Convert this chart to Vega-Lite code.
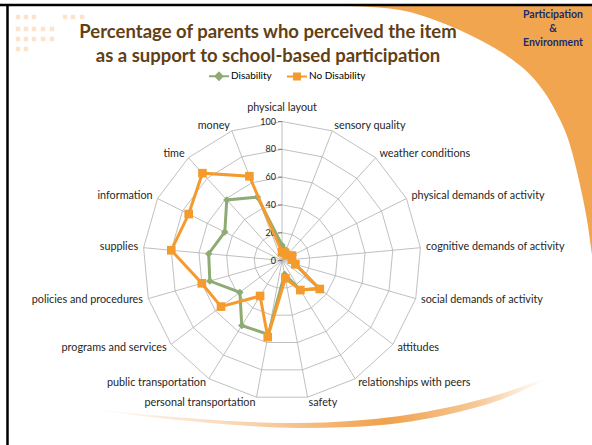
{
  "$schema": "https://vega.github.io/schema/vega-lite/v6.json",
  "width": 592,
  "height": 445,
  "padding": 0,
  "autosize": "none",
  "background": "white",
  "config": {"view": {"stroke": null}, "font": "Lato"},
  "title": {
    "text": ["Percentage of parents who perceived the item", "as a support to school-based participation"],
    "anchor": "middle", "frame": "group", "orient": "top", "offset": -65, "baseline": "top",
    "font": "Lato", "fontSize": 18.5, "fontWeight": "bold", "color": "#633f15", "lineHeight": 23.5, "dx": -28
  },
  "datasets": {
    "cats": [
      {"index": 0, "item": "physical layout", "Disability": 11, "No Disability": 6},
      {"index": 1, "item": "sensory quality", "Disability": 8, "No Disability": 6},
      {"index": 2, "item": "weather conditions", "Disability": 6, "No Disability": 5},
      {"index": 3, "item": "physical demands of activity", "Disability": 9, "No Disability": 8},
      {"index": 4, "item": "cognitive demands of activity", "Disability": 7, "No Disability": 7},
      {"index": 5, "item": "social demands of activity", "Disability": 10, "No Disability": 10},
      {"index": 6, "item": "attitudes", "Disability": 33, "No Disability": 34},
      {"index": 7, "item": "relationships with peers", "Disability": 25, "No Disability": 25},
      {"index": 8, "item": "safety", "Disability": 10, "No Disability": 13},
      {"index": 9, "item": "personal transportation", "Disability": 54, "No Disability": 56},
      {"index": 10, "item": "public transportation", "Disability": 55, "No Disability": 30},
      {"index": 11, "item": "programs and services", "Disability": 38, "No Disability": 55},
      {"index": 12, "item": "policies and procedures", "Disability": 54, "No Disability": 60},
      {"index": 13, "item": "supplies", "Disability": 53, "No Disability": 80},
      {"index": 14, "item": "information", "Disability": 46, "No Disability": 75},
      {"index": 15, "item": "time", "Disability": 59, "No Disability": 85},
      {"index": 16, "item": "money", "Disability": 49, "No Disability": 65}
    ],
    "levels": [{"level": 0}, {"level": 20}, {"level": 40}, {"level": 60}, {"level": 80}, {"level": 100}],
    "corner": [
      {"px": 310, "py": 5}, {"px": 350, "py": 6}, {"px": 400, "py": 10}, {"px": 440, "py": 22},
      {"px": 480, "py": 40}, {"px": 510, "py": 58}, {"px": 535, "py": 80}, {"px": 555, "py": 110},
      {"px": 570, "py": 145}, {"px": 580, "py": 185}, {"px": 587, "py": 220}, {"px": 592, "py": 255}
    ],
    "swoosh": [
      {"px": 90, "lo": 409, "hi": 409}, {"px": 150, "lo": 417, "hi": 415}, {"px": 200, "lo": 422, "hi": 419},
      {"px": 250, "lo": 426, "hi": 422}, {"px": 300, "lo": 428, "hi": 423}, {"px": 350, "lo": 427, "hi": 421},
      {"px": 400, "lo": 423, "hi": 416}, {"px": 450, "lo": 414, "hi": 407}, {"px": 500, "lo": 400, "hi": 394},
      {"px": 545, "lo": 380, "hi": 378}
    ],
    "dots": [
      {"px": 18, "py": 17}, {"px": 26, "py": 17}, {"px": 34, "py": 17}, {"px": 65, "py": 17}, {"px": 73, "py": 17}, {"px": 82, "py": 17},
      {"px": 18, "py": 29}, {"px": 26, "py": 29}, {"px": 34, "py": 29}, {"px": 43, "py": 29}, {"px": 52, "py": 29},
      {"px": 18, "py": 39}, {"px": 26, "py": 39}, {"px": 34, "py": 39}, {"px": 43, "py": 39}, {"px": 52, "py": 39},
      {"px": 18, "py": 49}, {"px": 26, "py": 49}
    ],
    "brand": [
      {"px": 553, "py": 15, "t": "Participation"},
      {"px": 553, "py": 29, "t": "&"},
      {"px": 553, "py": 43, "t": "Environment"}
    ]
  },
  "layer": [
    {
      "layer": [
        {
          "data": {"name": "corner"},
          "mark": {"type": "area", "color": "#f2a54f", "interpolate": "monotone"},
          "encoding": {
            "x": {"field": "px", "type": "quantitative", "scale": {"domain": [0, 592], "nice": false, "zero": false}, "axis": null},
            "y": {"field": "py", "type": "quantitative", "scale": {"domain": [445, 0], "nice": false, "zero": false}, "axis": null},
            "y2": {"datum": 5}
          }
        },
        {
          "data": {"name": "swoosh"},
          "mark": {"type": "area", "interpolate": "monotone",
            "color": {"gradient": "linear", "x1": 0, "x2": 1, "y1": 0, "y2": 0,
              "stops": [{"offset": 0, "color": "#ffffff"}, {"offset": 0.35, "color": "#f9d3ad"}, {"offset": 0.65, "color": "#f0a14c"}, {"offset": 0.85, "color": "#f6c896"}, {"offset": 1, "color": "#ffffff"}]}},
          "encoding": {
            "x": {"field": "px", "type": "quantitative"},
            "y": {"field": "lo", "type": "quantitative"},
            "y2": {"field": "hi"}
          }
        },
        {
          "data": {"name": "dots"},
          "mark": {"type": "point", "shape": "square", "filled": true, "color": "#fde3cc", "opacity": 1, "size": 20},
          "encoding": {
            "x": {"field": "px", "type": "quantitative"},
            "y": {"field": "py", "type": "quantitative"}
          }
        },
        {
          "data": {"values": [{}]},
          "mark": {"type": "rule", "color": "#000000", "strokeWidth": 2.5},
          "encoding": {"y": {"datum": 5}}
        },
        {
          "data": {"values": [{}]},
          "mark": {"type": "rule", "color": "#000000", "strokeWidth": 2.5},
          "encoding": {"x": {"datum": 7.5}, "y": {"datum": 4}, "y2": {"datum": 445}}
        },
        {
          "data": {"name": "brand"},
          "mark": {"type": "text", "font": "Lato", "fontSize": 10.5, "fontWeight": "bold", "color": "#1b2a6b", "align": "center", "baseline": "middle"},
          "encoding": {
            "x": {"field": "px", "type": "quantitative"},
            "y": {"field": "py", "type": "quantitative"},
            "text": {"field": "t"}
          }
        }
      ]
    },
    {
      "layer": [
        {
          "data": {"name": "cats"},
          "transform": [
            {"calculate": "[20, 40, 60, 80, 100]", "as": "lv"},
            {"flatten": ["lv"]},
            {"calculate": "datum.index * 2 * PI / 17", "as": "ang"},
            {"calculate": "datum.lv * sin(datum.ang)", "as": "gx"},
            {"calculate": "datum.lv * cos(datum.ang)", "as": "gy"}
          ],
          "mark": {"type": "line", "interpolate": "linear-closed", "color": "#b0b0b0", "strokeWidth": 0.8},
          "encoding": {
            "x": {"field": "gx", "type": "quantitative", "scale": {"domain": [-202.9, 223.0], "nice": false, "zero": false}, "axis": null},
            "y": {"field": "gy", "type": "quantitative", "scale": {"domain": [-132.7, 187.4], "nice": false, "zero": false}, "axis": null},
            "detail": {"field": "lv"},
            "order": {"field": "index"}
          }
        },
        {
          "data": {"name": "cats"},
          "transform": [
            {"calculate": "datum.index * 2 * PI / 17", "as": "ang"},
            {"calculate": "100 * sin(datum.ang)", "as": "gx"},
            {"calculate": "100 * cos(datum.ang)", "as": "gy"}
          ],
          "mark": {"type": "rule", "color": "#b0b0b0", "strokeWidth": 0.8},
          "encoding": {
            "x": {"field": "gx", "type": "quantitative"},
            "y": {"field": "gy", "type": "quantitative"},
            "x2": {"datum": 0},
            "y2": {"datum": 0}
          }
        },
        {
          "data": {"name": "cats"},
          "transform": [
            {"calculate": "datum.index * 2 * PI / 17", "as": "ang"},
            {"calculate": "(cos(datum.ang) > 0.95 ? 110 : 104) * sin(datum.ang)", "as": "lx"},
            {"calculate": "(cos(datum.ang) > 0.95 ? 110 : 104) * cos(datum.ang)", "as": "ly"},
            {"calculate": "abs(sin(datum.ang)) < 0.1 ? 'center' : (sin(datum.ang) > 0 ? 'left' : 'right')", "as": "al"}
          ],
          "mark": {"type": "text", "font": "Lato", "fontSize": 10.8, "color": "#262626", "baseline": "middle", "align": {"expr": "datum.al"}},
          "encoding": {
            "x": {"field": "lx", "type": "quantitative"},
            "y": {"field": "ly", "type": "quantitative"},
            "text": {"field": "item"}
          }
        },
        {
          "data": {"name": "levels"},
          "mark": {"type": "text", "font": "Lato", "fontSize": 9, "color": "#262626", "align": "right", "baseline": "middle", "dx": -6},
          "encoding": {
            "x": {"datum": 0},
            "y": {"field": "level", "type": "quantitative"},
            "text": {"field": "level"}
          }
        },
        {
          "data": {"name": "levels"},
          "mark": {"type": "tick", "orient": "horizontal", "color": "#595959", "size": 4, "thickness": 1, "xOffset": -2},
          "encoding": {
            "x": {"datum": 0},
            "y": {"field": "level", "type": "quantitative"}
          }
        },
        {
          "data": {"name": "cats"},
          "transform": [
            {"fold": ["Disability"], "as": ["series", "value"]},
            {"calculate": "datum.index * 2 * PI / 17", "as": "ang"},
            {"calculate": "datum.value * sin(datum.ang)", "as": "vx"},
            {"calculate": "datum.value * cos(datum.ang)", "as": "vy"}
          ],
          "mark": {"type": "line", "interpolate": "linear-closed", "strokeWidth": 3, "color": "#8fab74"},
          "encoding": {
            "x": {"field": "vx", "type": "quantitative"},
            "y": {"field": "vy", "type": "quantitative"},
            "order": {"field": "index"}
          }
        },
        {
          "data": {"name": "cats"},
          "transform": [
            {"fold": ["Disability"], "as": ["series", "value"]},
            {"calculate": "datum.index * 2 * PI / 17", "as": "ang"},
            {"calculate": "datum.value * sin(datum.ang)", "as": "vx"},
            {"calculate": "datum.value * cos(datum.ang)", "as": "vy"}
          ],
          "mark": {"type": "point", "filled": true, "opacity": 1, "size": 55, "shape": "diamond", "color": "#8fab74"},
          "encoding": {
            "x": {"field": "vx", "type": "quantitative"},
            "y": {"field": "vy", "type": "quantitative"}
          }
        },
        {
          "data": {"name": "cats"},
          "transform": [
            {"fold": ["No Disability"], "as": ["series", "value"]},
            {"calculate": "datum.index * 2 * PI / 17", "as": "ang"},
            {"calculate": "datum.value * sin(datum.ang)", "as": "vx"},
            {"calculate": "datum.value * cos(datum.ang)", "as": "vy"}
          ],
          "mark": {"type": "line", "interpolate": "linear-closed", "strokeWidth": 3, "color": "#f59b2d"},
          "encoding": {
            "x": {"field": "vx", "type": "quantitative"},
            "y": {"field": "vy", "type": "quantitative"},
            "order": {"field": "index"}
          }
        },
        {
          "data": {"name": "cats"},
          "transform": [
            {"fold": ["No Disability"], "as": ["series", "value"]},
            {"calculate": "datum.index * 2 * PI / 17", "as": "ang"},
            {"calculate": "datum.value * sin(datum.ang)", "as": "vx"},
            {"calculate": "datum.value * cos(datum.ang)", "as": "vy"}
          ],
          "mark": {"type": "point", "filled": true, "opacity": 1, "size": 75, "shape": "square", "color": "#f59b2d"},
          "encoding": {
            "x": {"field": "vx", "type": "quantitative"},
            "y": {"field": "vy", "type": "quantitative"}
          }
        },
        {
          "data": {"name": "cats"},
          "transform": [
            {"fold": ["Disability", "No Disability"], "as": ["series", "value"]}
          ],
          "mark": {"type": "point", "filled": false, "clip": true, "size": 250, "strokeWidth": 2},
          "encoding": {
            "x": {"datum": -1000},
            "y": {"field": "value", "type": "quantitative"},
            "color": {"field": "series", "type": "nominal", "scale": {"domain": ["Disability", "No Disability"], "range": ["#8fab74", "#f59b2d"]},
              "legend": {"orient": "none", "legendX": 210, "legendY": 67, "padding": 0, "direction": "horizontal", "title": null, "labelFont": "Lato", "labelFontSize": 10, "labelColor": "#000000", "symbolSize": 250, "symbolStrokeWidth": 2, "symbolOpacity": 1, "labelOffset": 3, "columnPadding": 10}},
            "shape": {"field": "series", "type": "nominal",
              "scale": {"domain": ["Disability", "No Disability"], "range": ["M-1.27,0H1.27M0,-0.45L0.45,0L0,0.45L-0.45,0ZM0,-0.2L0.2,0L0,0.2L-0.2,0Z", "M-1.27,0H1.27M-0.38,-0.38H0.38V0.38H-0.38ZM-0.15,-0.15H0.15V0.15H-0.15Z"]},
              "legend": {"orient": "none", "legendX": 210, "legendY": 67, "padding": 0, "direction": "horizontal", "title": null, "labelFont": "Lato", "labelFontSize": 10, "labelColor": "#000000", "symbolSize": 250, "symbolStrokeWidth": 2, "symbolOpacity": 1, "labelOffset": 3, "columnPadding": 10}}
          }
        }
      ]
    }
  ],
  "resolve": {"scale": {"x": "independent", "y": "independent"}}
}
